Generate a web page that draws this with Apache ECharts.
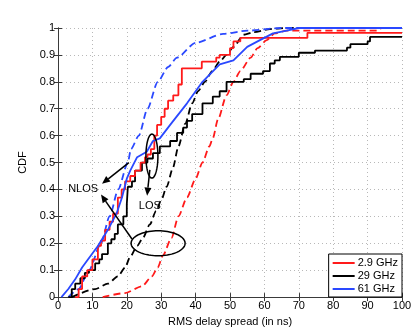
<!DOCTYPE html>
<html>
<head>
<meta charset="utf-8">
<script src="https://cdn.jsdelivr.net/npm/echarts@6/dist/echarts.min.js"></script>
<style>
html,body{margin:0;padding:0;background:#fff;}
#chart{width:415px;height:332px;}
</style>
</head>
<body>
<div id="chart"></div>
<script>
// ---- data (RMS delay spread in ns, CDF) ----
var xTicks = [0,10,20,30,40,50,60,70,80,90,100];
var yTicks = [0,0.1,0.2,0.3,0.4,0.5,0.6,0.7,0.8,0.9,1];
var legendNames = ['2.9 GHz','29 GHz','61 GHz'];

// NLOS (solid)
var red29NLOS_x = [5,6,7,8.5,10,11.6,12.5,13.7,15,16,17.4,18.5,19.5,21,22.4,24,25.3,26,27,28,28.8,30,31,32,33.5,35,36,41,41.8,46,47,50,51,53,72.5,100];
var red29NLOS_y = [0,0.03,0.077,0.1,0.14,0.19,0.21,0.25,0.28,0.31,0.37,0.4,0.43,0.45,0.47,0.5,0.52,0.53,0.55,0.6,0.64,0.67,0.7,0.73,0.75,0.79,0.85,0.85,0.875,0.89,0.9,0.925,0.95,0.963,0.982,0.982];

var black29NLOS_x = [3,4,5,6.5,7.8,9,10.8,12,12.8,14.5,15.5,16.5,17.4,19,20,20.3,21.5,22.4,24.4,26,27.6,29.6,32.6,34.6,36.4,37.5,39,42,45,47,49,54,56,59.6,61.6,63,64.5,70,74.7,84,85,90,90.7,100];
var black29NLOS_y = [0,0.03,0.05,0.07,0.09,0.1,0.125,0.14,0.16,0.2,0.215,0.235,0.27,0.3,0.345,0.41,0.43,0.47,0.5,0.515,0.535,0.56,0.58,0.61,0.63,0.655,0.68,0.72,0.745,0.765,0.8,0.81,0.83,0.84,0.868,0.88,0.893,0.908,0.916,0.927,0.94,0.95,0.967,0.967];

var blue61NLOS_x = [1,3,5,7,8.7,11.6,14.5,17,18.6,20,21,23,25.8,27.6,29.6,32.6,37.5,42,47,51,55,58.7,62.5,66.5,70,100];
var blue61NLOS_y = [0,0.03,0.066,0.11,0.14,0.19,0.25,0.31,0.37,0.44,0.47,0.52,0.54,0.58,0.59,0.64,0.72,0.8,0.865,0.88,0.93,0.955,0.98,0.99,1,1];

// LOS (dashed)
var red29LOS_x = [13,19.5,24.4,27.3,29,30.5,33,35,37.5,40,42,44,45,46.5,49,51,53,56,58,60.7,63,66.5,93,94,100];
var red29LOS_y = [0,0.015,0.04,0.077,0.11,0.155,0.22,0.3,0.37,0.44,0.5,0.56,0.59,0.66,0.75,0.8,0.84,0.89,0.925,0.955,0.98,0.99,0.99,1,1];

var black29LOS_x = [4,10.8,14.5,17.4,19.5,21,23,24.7,26.7,28.5,30,31.6,33.4,35,37,39,40.7,42.7,44.8,47,49,51,54,57,61.6,66,100];
var black29LOS_y = [0,0.03,0.05,0.077,0.11,0.15,0.19,0.22,0.27,0.32,0.36,0.41,0.48,0.56,0.645,0.72,0.765,0.8,0.84,0.875,0.9,0.93,0.975,0.985,0.996,1,1];

var blue61LOS_x = [3,6,9,12.5,15,17.5,20.3,21.2,23.5,26,29,32,34.6,40,48,55,65,100];
var blue61LOS_y = [0,0.03,0.1,0.2,0.3,0.4,0.5,0.55,0.6,0.7,0.8,0.855,0.89,0.945,0.978,0.99,1,1];

function pairs(xs, ys){ var o=[]; for(var i=0;i<xs.length;i++) o.push([xs[i],ys[i]]); return o; }

var RED='#ff1a1a', BLACK='#000000', BLUE='#2a48ff';
var FONT='Liberation Sans';

var chart = echarts.init(document.getElementById('chart'), null, {renderer:'canvas'});

function solid(name, color, data, step){
  return {name:name, type:'line', data:data, showSymbol:false, symbol:'none', step:step||false,
    lineStyle:{color:color, width:1.8}, itemStyle:{color:color}, z:3, animation:false};
}
function dashed(name, color, data){
  return {name:name, type:'line', data:data, showSymbol:false, symbol:'none', smooth:0.25, smoothMonotone:'x',
    lineStyle:{color:color, width:1.8, type:[7,4]}, itemStyle:{color:color}, z:2, animation:false};
}

var axisLineStyle = {lineStyle:{color:'#3a3a3a', width:1}};
var option = {
  animation:false,
  backgroundColor:'#fff',
  textStyle:{fontFamily:FONT},
  grid:{left:58, right:13, top:28, bottom:31},
  legend:{
    data:legendNames.map(function(n){return {name:n};}),
    orient:'vertical', right:13, bottom:35,
    icon:'rect', itemWidth:22, itemHeight:2, itemGap:1,
    padding:[3,4,2,4],
    backgroundColor:'#fff', borderColor:'#000', borderWidth:1, borderRadius:0,
    textStyle:{fontFamily:FONT, fontSize:11, color:'#000', padding:[0,0,0,-2], lineHeight:12}
  },
  xAxis:[{
    type:'value', min:xTicks[0], max:xTicks[xTicks.length-1], interval:10,
    name:'RMS delay spread (in ns)', nameLocation:'middle', nameGap:16,
    nameTextStyle:{fontFamily:FONT, fontSize:11, color:'#000'},
    axisLine:axisLineStyle, axisTick:{inside:true, length:4, lineStyle:{color:'#3a3a3a'}},
    axisLabel:{fontFamily:FONT, fontSize:11, color:'#000', margin:3},
    splitLine:{show:true, lineStyle:{color:'#b8b8b8', type:[1,3], width:1}}
  },{
    type:'value', position:'top', min:0, max:100, interval:10,
    axisLine:axisLineStyle, axisTick:{inside:true, length:4, lineStyle:{color:'#3a3a3a'}},
    axisLabel:{show:false}, splitLine:{show:false}
  }],
  yAxis:[{
    type:'value', min:yTicks[0], max:yTicks[yTicks.length-1], interval:0.1,
    name:'CDF', nameLocation:'middle', nameGap:24,
    nameTextStyle:{fontFamily:FONT, fontSize:11, color:'#000'},
    axisLine:{show:true, lineStyle:{color:'#3a3a3a', width:1}},
    axisTick:{show:true, inside:true, length:4, lineStyle:{color:'#3a3a3a'}},
    axisLabel:{fontFamily:FONT, fontSize:11, color:'#000', margin:3},
    splitLine:{show:true, lineStyle:{color:'#b8b8b8', type:[1,3], width:1}}
  },{
    type:'value', position:'right', min:0, max:1, interval:0.1,
    axisLine:{show:true, lineStyle:{color:'#3a3a3a', width:1}},
    axisTick:{show:true, inside:true, length:4, lineStyle:{color:'#3a3a3a'}},
    axisLabel:{show:false}, splitLine:{show:false}
  }],
  series:[
    dashed('2.9 GHz LOS', RED, pairs(red29LOS_x, red29LOS_y)),
    dashed('29 GHz LOS', BLACK, pairs(black29LOS_x, black29LOS_y)),
    dashed('61 GHz LOS', BLUE, pairs(blue61LOS_x, blue61LOS_y)),
    solid(legendNames[1], BLACK, pairs(black29NLOS_x, black29NLOS_y), 'end'),
    solid(legendNames[0], RED, pairs(red29NLOS_x, red29NLOS_y), 'end'),
    solid(legendNames[2], BLUE, pairs(blue61NLOS_x, blue61NLOS_y))
  ]
};
chart.setOption(option);

// ---- annotations placed in data coordinates ----
var annEllipses = [ {cx:27.3, cy:0.524, rx:6, ry:22}, {cx:29.1, cy:0.2, rx:27, ry:12.5} ];
var annArrows = [ {from:[20.6,0.500], to:[12.8,0.421]}, {from:[21.5,0.216], to:[12.5,0.381]}, {from:[26.7,0.473], to:[25.9,0.377]} ];
var annTexts = [ {text:'NLOS', at:[7.3,0.40]}, {text:'LOS', at:[26.7,0.34]} ];

function px(p){ return chart.convertToPixel({xAxisIndex:0, yAxisIndex:0}, p); }
var g = [];
annEllipses.forEach(function(e){
  var c = px([e.cx, e.cy]); var pts=[];
  for(var i=0;i<72;i++){ var a=i/72*Math.PI*2; pts.push([c[0]+e.rx*Math.cos(a), c[1]+e.ry*Math.sin(a)]); }
  g.push({type:'polygon', shape:{points:pts}, style:{fill:null, stroke:'#000', lineWidth:1.5}, z:10});
});
annArrows.forEach(function(a){
  var p0=px(a.from), p1=px(a.to);
  var dx=p1[0]-p0[0], dy=p1[1]-p0[1], L=Math.sqrt(dx*dx+dy*dy), ux=dx/L, uy=dy/L;
  var hl=8, hw=3.5;
  var b=[p1[0]-ux*hl, p1[1]-uy*hl];
  g.push({type:'line', shape:{x1:p0[0],y1:p0[1],x2:b[0],y2:b[1]}, style:{stroke:'#000', lineWidth:1.5}, z:10});
  g.push({type:'polygon', shape:{points:[[p1[0],p1[1]],[b[0]-uy*hw,b[1]+ux*hw],[b[0]+uy*hw,b[1]-ux*hw]]}, style:{fill:'#000'}, z:10});
});
annTexts.forEach(function(t){
  var p=px(t.at);
  g.push({type:'text', x:p[0], y:p[1], style:{text:t.text, fill:'#000', font:'11px "Liberation Sans"', textAlign:'center', textVerticalAlign:'middle'}, z:11});
});
chart.setOption({graphic:g});
</script>
</body>
</html>
